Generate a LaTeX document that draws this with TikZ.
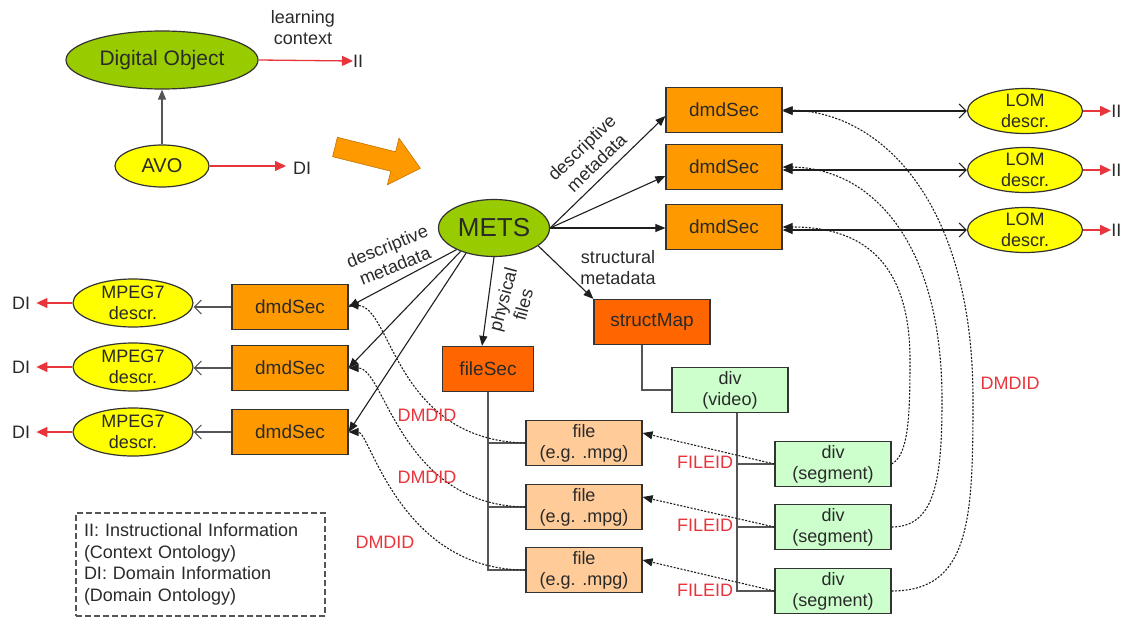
\documentclass[tikz,border=0pt]{standalone}
\usepackage{fontspec}
\setmainfont{Liberation Sans}
\usetikzlibrary{shapes.geometric,arrows.meta}
\definecolor{dgreen}{HTML}{99CC00}
\definecolor{yel}{HTML}{FFFF00}
\definecolor{orng}{HTML}{FF9900}
\definecolor{dorng}{HTML}{FF6600}
\definecolor{peach}{HTML}{FFCC99}
\definecolor{lgreen}{HTML}{CCFFCC}
\definecolor{txt}{HTML}{2A2A2A}
\definecolor{redtxt}{HTML}{E8353B}
\definecolor{bordc}{HTML}{333333}
\definecolor{linec}{HTML}{1E1E1E}
\definecolor{greyc}{HTML}{555555}
\begin{document}
\begin{tikzpicture}[x=1pt,y=-1pt,
  boxn/.style={draw=bordc, line width=1.2pt, minimum width=116pt, minimum height=45pt, inner sep=0pt, text=txt, align=center},
  orangebox/.style={boxn, fill=orng, font=\fontsize{19}{22}\selectfont},
  darkbox/.style={boxn, fill=dorng, font=\fontsize{19}{22}\selectfont},
  filebox/.style={boxn, fill=peach, font=\fontsize{18}{21}\selectfont},
  divbox/.style={boxn, fill=lgreen, font=\fontsize{18}{21}\selectfont},
  ell/.style={ellipse, draw=bordc, line width=1.2pt, inner sep=0pt, text=txt},
  lbl/.style={text=txt, font=\fontsize{18}{21}\selectfont, align=center, inner sep=0pt},
  redlbl/.style={text=redtxt, font=\fontsize{18}{21}\selectfont, inner sep=0pt},
  conn/.style={draw=linec, line width=1.1pt},
  tree/.style={draw=greyc, line width=1.4pt},
  tip/.style={-{Triangle[length=10pt,width=8pt]}},
  barb/.style={-{Straight Barb[length=7pt,width=14pt]}},
  redarr/.style={draw=redtxt, line width=1.3pt, -{Triangle[length=11pt,width=10pt]}},
  dotconn/.style={draw=linec, line width=1.1pt, dash pattern=on 2pt off 1.5pt}
]
\useasboundingbox (0,0) rectangle (1127,618);

% ---- top-left: Digital Object / AVO ----
\node[ell, fill=dgreen, minimum width=192pt, minimum height=58pt, font=\fontsize{21}{24}\selectfont] (dobj) at (162,60) {Digital Object};
\node[ell, fill=yel, minimum width=94pt, minimum height=42pt, font=\fontsize{20}{24}\selectfont] (avo) at (162,166) {AVO};
\draw[draw=greyc, line width=1.4pt, -{Triangle[length=10pt,width=8pt]}, color=greyc] (avo) -- (dobj);
\node[lbl] (lc) at (303,28) {learning\\context};
\node[lbl, anchor=west] (ii0) at (353,61) {II};
\draw[redarr] (dobj.east) -- (ii0.west);
\node[lbl, anchor=west] (di0) at (293,168) {DI};
\draw[redarr, shorten >=7pt] (avo.east) -- (avo.east -| di0.west);

% ---- block arrow ----
\draw[fill=orng, draw=orng!75!black, line width=0.6pt] (337.4,137.3) -- (395.6,151.8) -- (399.0,138.2) -- (420.4,168.3) -- (387.4,184.8) -- (390.8,171.2) -- (332.6,156.7) -- cycle;

% ---- METS ----
\node[ell, fill=dgreen, minimum width=111pt, minimum height=57pt, font=\fontsize{26}{30}\selectfont] (mets) at (494,228) {METS};

% ---- right dmdSecs and LOM ----
\node[orangebox] (r1) at (724,110) {dmdSec};
\node[orangebox] (r2) at (724,167) {dmdSec};
\node[orangebox] (r3) at (724,227) {dmdSec};
\node[ell, fill=yel, minimum width=115pt, minimum height=45pt] (l1) at (1025,111) {};
\node[ell, fill=yel, minimum width=115pt, minimum height=45pt] (l2) at (1025,170) {};
\node[ell, fill=yel, minimum width=115pt, minimum height=45pt] (l3) at (1025,230) {};
\node[lbl] (l1t) at (l1) {LOM\\descr.};
\node[lbl] (l2t) at (l2) {LOM\\descr.};
\node[lbl] (l3t) at (l3) {LOM\\descr.};
\foreach \i in {1,2,3}{
  \draw[conn, {Triangle[length=10pt,width=8pt]}-{Straight Barb[length=7pt,width=14pt]}] (l\i.west -| r\i.east) -- (l\i.west);
  \node[lbl, anchor=west] (iir\i) at ([xshift=28pt]l\i.east) {II};
  \draw[redarr] (l\i.east) -- (iir\i.west);
}
\draw[conn, tip] (mets.east) -- ([yshift=-6pt]r1.west);
\draw[conn, tip] (mets.east) -- ([yshift=-9pt]r2.west);
\draw[conn, tip] (mets.east) -- (mets.east -| r3.west);
\node[lbl, rotate=44] (dmr) at (589,155) {descriptive\\metadata};

% ---- left dmdSecs and MPEG7 ----
\node[orangebox] (ld1) at (290,307) {dmdSec};
\node[orangebox] (ld2) at (290,368) {dmdSec};
\node[orangebox] (ld3) at (290,432) {dmdSec};
\node[ell, fill=yel, minimum width=120pt, minimum height=48pt] (m1) at (133,303) {};
\node[ell, fill=yel, minimum width=120pt, minimum height=48pt] (m2) at (133,367) {};
\node[ell, fill=yel, minimum width=120pt, minimum height=48pt] (m3) at (133,432) {};
\foreach \i in {1,2,3}{
  \node[lbl] (m\i t) at (m\i) {MPEG7\\descr.};
  \draw[conn, draw=greyc, barb] (ld\i.west) -- (ld\i.west -| m\i.east);
  \node[lbl, anchor=east] (dil\i) at ([xshift=-42pt]m\i.west) {DI};
  \draw[redarr, shorten >=6pt] (m\i.west) -- (dil\i.east);
}
\draw[conn, tip] (mets.210) -- (ld1.east);
\draw[conn, tip] (mets.215) -- (ld2.east);
\draw[conn, tip] (mets.222) -- (ld3.east);
\node[lbl, rotate=22] (dml) at (391,256) {descriptive\\metadata};

% ---- structMap / fileSec ----
\node[darkbox] (sm) at (652,322) {structMap};
\node[darkbox, minimum width=91pt] (fs) at (488,369) {fileSec};
\draw[conn, tip] (mets.-22) -- (sm.north west);
\node[lbl] (stl) at (618,268) {structural\\metadata};
\draw[conn, tip] (mets.south) -- ([xshift=-6pt]fs.north);
\node[lbl, rotate=75] (pfl) at (513,302) {physical\\files};

% ---- files ----
\node[filebox] (f1) at (584,443) {file\\(e.g. .mpg)};
\node[filebox] (f2) at (584,507) {file\\(e.g. .mpg)};
\node[filebox] (f3) at (584,570) {file\\(e.g. .mpg)};
\draw[tree] (fs.south) -- (fs.south |- f3.west) -- (f3.west);
\draw[tree] (fs.south |- f1.west) -- (f1.west);
\draw[tree] (fs.south |- f2.west) -- (f2.west);

% ---- divs ----
\node[divbox] (dv) at (730,390) {div\\(video)};
\node[divbox] (s1) at (833,464) {div\\(segment)};
\node[divbox] (s2) at (833,527) {div\\(segment)};
\node[divbox] (s3) at (833,591) {div\\(segment)};
\draw[tree] ([xshift=-10pt]sm.south) |- (dv.west);
\coordinate (dvt) at ([xshift=7pt]dv.south);
\draw[tree] (dvt) -- (dvt |- s3.west) -- (s3.west);
\draw[tree] (dvt |- s1.west) -- (s1.west);
\draw[tree] (dvt |- s2.west) -- (s2.west);

% ---- FILEID ----
\draw[dotconn, tip] (s1.west) -- ([yshift=10pt]f1.east);
\draw[dotconn, tip] (s2.west) -- ([yshift=10pt]f2.east);
\draw[dotconn, tip] (s3.west) -- ([yshift=10pt]f3.east);
\node[redlbl] (fid1) at (705,462) {FILEID};
\node[redlbl] (fid2) at (705,525) {FILEID};
\node[redlbl] (fid3) at (705,590) {FILEID};

% ---- DMDID left ----
\draw[dotconn, tip] (f1.west) .. controls (395,440) and (392,307) .. ([yshift=2pt]ld1.east);
\draw[dotconn, tip] (f2.west) .. controls (400,505) and (385,368) .. (ld2.east);
\draw[dotconn, tip] (f3.west) .. controls (400,570) and (370,432) .. (ld3.east);
\node[redlbl] (dd1) at (427,415) {DMDID};
\node[redlbl] (dd2) at (427,477) {DMDID};
\node[redlbl] (dd3) at (385,542) {DMDID};

% ---- DMDID right ----
\draw[dotconn, tip] (s3.east) .. controls (970,591) and (973,520) .. (973,400) .. controls (973,200) and (880,112) .. (r1.east);
\draw[dotconn, tip] (s2.east) .. controls (935,527) and (942,480) .. (942,400) .. controls (942,240) and (870,168) .. (r2.east);
\draw[dotconn, tip] (s1.east) .. controls (908,455) and (910,420) .. (910,360) .. controls (910,250) and (850,227) .. (r3.east);
\node[redlbl] (ddr) at (1010,383) {DMDID};

% ---- legend ----
\node[draw=greyc, line width=1.3pt, dash pattern=on 6pt off 3pt, text width=233pt, inner xsep=8pt, inner ysep=0pt, minimum height=103pt, align=left, text=txt, font=\fontsize{18}{21.5}\selectfont] (leg) at (200.5,564.5) {II: Instructional Information\\(Context Ontology)\\DI: Domain Information\\(Domain Ontology)};
\end{tikzpicture}
\end{document}
